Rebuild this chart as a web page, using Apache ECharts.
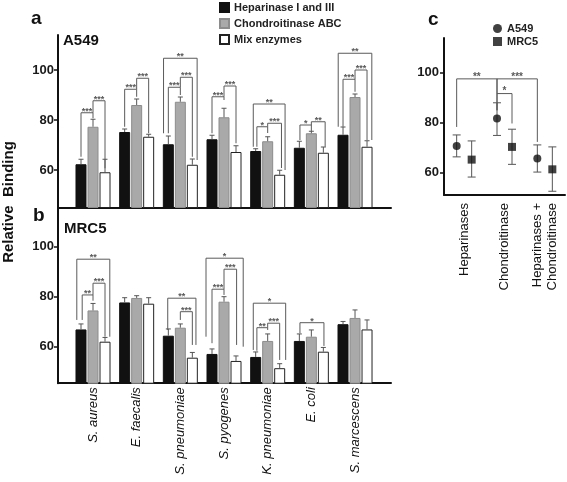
<!DOCTYPE html>
<html>
<head>
<meta charset="utf-8">
<script src="https://cdn.jsdelivr.net/npm/echarts@6/dist/echarts.min.js"></script>
<style>
html,body{margin:0;padding:0;background:#fff;}
#chart{width:567px;height:482px;}
</style>
</head>
<body>
<div id="chart"></div>
<script>
// ---------- data ----------
const categories = ['S. aureus', 'E. faecalis', 'S. pneumoniae', 'S. pyogenes', 'K. pneumoniae', 'E. coli', 'S. marcescens'];
const seriesNames = ['Heparinase I and III', 'Chondroitinase ABC', 'Mix enzymes'];

// Panel a: A549
const a549Hep  = [62.3, 75.2, 70.3, 72.3, 67.6, 68.9, 74.1];
const a549Chon = [77.3, 86.0, 87.3, 81.1, 71.5, 74.7, 89.2];
const a549Mix  = [59.1, 73.3, 62.1, 67.2, 58.1, 66.9, 69.3];
const a549HepErr  = [2.0, 1.2, 3.3, 1.6, 0.9, 2.6, 3.1];
const a549ChonErr = [3.0, 2.4, 1.9, 3.6, 1.8, 0.8, 1.2];
const a549MixErr  = [5.2, 1.0, 2.3, 2.5, 1.8, 2.3, 2.4];

// Panel b: MRC5
const mrc5Hep  = [66.9, 77.7, 64.4, 57.1, 55.9, 62.3, 69.0];
const mrc5Chon = [74.5, 79.5, 67.6, 78.0, 62.3, 64.0, 71.5];
const mrc5Mix  = [62.0, 77.2, 55.6, 54.3, 51.4, 58.0, 66.9];
const mrc5HepErr  = [2.2, 1.9, 2.7, 2.0, 2.0, 2.8, 1.1];
const mrc5ChonErr = [2.8, 0.9, 1.5, 2.0, 2.8, 2.7, 3.2];
const mrc5MixErr  = [1.7, 2.4, 2.1, 2.0, 1.8, 1.7, 3.8];

// Significance brackets: [group, leftBar, rightBar, top, leftBottom, rightBottom]
const bracketsA = [
  [0, -1, 0, 82.9, 65.3, 80.7], [0, 0, 1, 87.7, 82.9, 60.7],
  [1, -1, 0, 92.3, 77.3, 89.3], [1, 0, 1, 96.7, 92.3, 74.7],
  [2, -1.4, 1.4, 104.7, 74.7, 64.0], [2, -1, 0, 93.1, 74.7, 90.0], [2, 0, 1, 97.1, 93.1, 65.3],
  [3, -1, 0, 89.3, 74.7, 88.0], [3, 0, 1, 93.6, 89.3, 70.7],
  [4, -1.2, 1.45, 86.4, 69.3, 60.0], [4, -0.9, 0, 77.3, 69.3, 74.8], [4, 0, 1.15, 78.7, 77.3, 60.8],
  [5, -0.95, 0, 78.0, 72.0, 75.3], [5, 0, 1.15, 79.3, 78.0, 69.3],
  [6, -1.4, 1.4, 106.7, 77.3, 72.0], [6, -1, 0, 96.3, 77.3, 91.3], [6, 0, 1, 100.0, 96.3, 72.0]
];
const bracketLabelsA = ['***', '***', '***', '***', '**', '***', '***', '***', '***', '**', '*', '***', '*', '**', '**', '***', '***'];
const bracketsB = [
  [0, -1.35, 1.4, 95.0, 70.7, 64.0], [0, -0.9, 0, 80.7, 70.7, 78.4], [0, 0, 1, 85.4, 80.7, 64.0],
  [2, -1.05, 1.3, 79.4, 66.7, 60.7], [2, 0, 1, 74.0, 70.7, 60.7],
  [3, -1.5, 1.6, 95.4, 64.0, 60.0], [3, -1, 0, 83.0, 61.4, 80.7], [3, 0, 1.05, 91.0, 83.0, 60.7],
  [4, -1.2, 1.5, 77.4, 58.7, 54.7], [4, -0.9, 0, 67.6, 58.4, 66.7], [4, 0, 1, 69.4, 67.6, 54.7],
  [5, -0.95, 1.05, 69.6, 65.4, 60.3]
];
const bracketLabelsB = ['**', '**', '***', '**', '***', '*', '***', '***', '*', '**', '***', '*'];

// Panel c
const cCategories = ['Heparinases', 'Chondroitinase', 'Heparinases +\nChondroitinase'];
const cNames = ['A549', 'MRC5'];
const a549Mean = [70.7, 81.7, 65.6];
const a549Low  = [66.3, 74.9, 60.2];
const a549High = [75.1, 88.0, 71.1];
const mrc5Mean = [65.2, 70.3, 61.3];
const mrc5Low  = [58.2, 63.3, 52.5];
const mrc5High = [72.7, 77.4, 70.3];
// [leftCat, leftSide, rightCat, rightSide, top, leftBottom, rightBottom]
const bracketsC = [
  [0, -1, 1, -1, 97.6, 78.3, 85.0],
  [1, -1, 2, -1, 97.6, 85.0, 72.3],
  [1, -1, 1, 1, 91.7, 91.7, 79.7]
];
const bracketLabelsC = ['**', '***', '*'];

// ---------- styling ----------
const FONT = 'Liberation Sans, Arial, Helvetica, sans-serif';
const PITCH = 12;   // px between bar centres in a group
const CDODGE = 7.5; // px offset of points in panel c
const LINE = '#111';
const ANN = '#5a5a5a';
const barColors = ['#111111', '#a9a9a9', '#ffffff'];
const barBorders = ['#111111', '#8c8c8c', '#222222'];

const chart = echarts.init(document.getElementById('chart'), null, {renderer: 'canvas'});

function barSeries(name, idx, values, axis) {
  return {
    type: 'bar', name: name, xAxisIndex: axis, yAxisIndex: axis,
    data: values.map((v, i) => [i, v]),
    barWidth: 11, barGap: '9.1%',
    itemStyle: {color: barColors[idx], borderColor: barBorders[idx], borderWidth: 1},
    clip: true, z: 2, silent: true
  };
}

function errData(vals, errs) {
  const out = [];
  vals.forEach((ser, s) => ser.forEach((v, i) => out.push([i, s - 1, v, errs[s][i]])));
  return out;
}

function errSeries(data, axis) {
  return {
    type: 'custom', xAxisIndex: axis, yAxisIndex: axis, z: 3, silent: true,
    encode: {x: 0, y: 2},
    data: data,
    renderItem: function (params, api) {
      const g = api.value(0), pos = api.value(1), v = api.value(2), e = api.value(3);
      const b = api.coord([g, v]);
      const t = api.coord([g, v + e]);
      const x = b[0] + pos * PITCH;
      return {
        type: 'group', children: [
          {type: 'line', shape: {x1: x, y1: b[1], x2: x, y2: t[1]}, style: {stroke: '#555', lineWidth: 1}},
          {type: 'line', shape: {x1: x - 2.5, y1: t[1], x2: x + 2.5, y2: t[1]}, style: {stroke: '#555', lineWidth: 1}}
        ]
      };
    }
  };
}

function bracketSeries(data, labels, axis) {
  return {
    type: 'custom', xAxisIndex: axis, yAxisIndex: axis, z: 4, silent: true,
    encode: {x: 0, y: 3},
    data: data,
    renderItem: function (params, api) {
      const g = api.value(0);
      const c = api.coord([g, api.value(3)]);
      const xL = c[0] + api.value(1) * PITCH;
      const xR = c[0] + api.value(2) * PITCH;
      const yT = c[1];
      const yL = api.coord([g, api.value(4)])[1];
      const yR = api.coord([g, api.value(5)])[1];
      return {
        type: 'group', children: [
          {type: 'polyline', shape: {points: [[xL, yL], [xL, yT], [xR, yT], [xR, yR]]},
           style: {stroke: ANN, lineWidth: 1, fill: null}},
          {type: 'text', style: {text: labels[params.dataIndex], x: (xL + xR) / 2, y: yT + 3,
           align: 'center', verticalAlign: 'bottom', fill: ANN, font: 'bold 9px ' + FONT}}
        ]
      };
    }
  };
}

const yLabel = {customValues: [60, 80, 100], fontSize: 13, fontWeight: 'bold', color: '#1a1a1a', fontFamily: FONT, margin: 4};
const yTick = {show: true, customValues: [60, 80, 100], length: 4, lineStyle: {color: LINE, width: 1.5}};
const axLine = {show: true, onZero: false, lineStyle: {color: LINE, width: 2}};

const option = {
  animation: false,
  backgroundColor: '#fff',
  textStyle: {fontFamily: FONT},
  title: [
    {text: 'a', left: 31, top: 9, padding: 0, textStyle: {fontSize: 19, fontWeight: 'bold', color: '#111', fontFamily: FONT}},
    {text: 'A549', left: 63, top: 33, padding: 0, textStyle: {fontSize: 15, fontWeight: 'bold', color: '#111', fontFamily: FONT}},
    {text: 'b', left: 33, top: 206, padding: 0, textStyle: {fontSize: 19, fontWeight: 'bold', color: '#111', fontFamily: FONT}},
    {text: 'MRC5', left: 64, top: 221, padding: 0, textStyle: {fontSize: 15, fontWeight: 'bold', color: '#111', fontFamily: FONT}},
    {text: 'c', left: 428, top: 10, padding: 0, textStyle: {fontSize: 19, fontWeight: 'bold', color: '#111', fontFamily: FONT}}
  ],
  legend: [
    {data: seriesNames, orient: 'vertical', left: 219, top: 2, padding: 0, itemWidth: 9, itemHeight: 9, itemGap: 5,
     icon: 'rect', itemTextGap: 6,
     textStyle: {fontSize: 11, fontWeight: 'bold', color: '#222', fontFamily: FONT}, selectedMode: false},
    {data: cNames, orient: 'vertical', left: 493, top: 23, padding: 0, itemWidth: 9, itemHeight: 9, itemGap: 2, itemTextGap: 3,
     textStyle: {fontSize: 11, fontWeight: 'bold', color: '#222', fontFamily: FONT}, selectedMode: false}
  ],
  graphic: [
    {type: 'text', x: 9, y: 202, rotation: Math.PI / 2,
     style: {text: 'Relative  Binding', font: 'bold 15px ' + FONT, fill: '#111', align: 'center', verticalAlign: 'middle'}}
  ],
  grid: [
    {left: 58, top: 35, width: 333, height: 172.5},
    {left: 58, top: 206.7, width: 333, height: 176.5},
    {left: 444, top: 38, width: 121, height: 157}
  ],
  xAxis: [
    {gridIndex: 0, type: 'value', min: -0.8015, max: 6.824, axisLine: axLine, axisTick: {show: false},
     axisLabel: {show: false}, splitLine: {show: false}},
    {gridIndex: 1, type: 'value', min: -0.8015, max: 6.824, axisLine: axLine, axisTick: {show: false},
     axisLabel: {customValues: [0, 1, 2, 3, 4, 5, 6], formatter: v => categories[Math.round(v)], rotate: 90,
       fontStyle: 'italic', fontSize: 13, color: '#111', fontFamily: FONT, margin: 4},
     splitLine: {show: false}},
    {gridIndex: 2, type: 'category', data: cCategories, boundaryGap: true, axisLine: axLine, axisTick: {show: false},
     axisLabel: {interval: 0, rotate: 90, fontSize: 13, color: '#111', fontFamily: FONT, margin: 8, lineHeight: 15},
     splitLine: {show: false}}
  ],
  yAxis: [
    {gridIndex: 0, type: 'value', min: 45, max: 114, axisLine: axLine, axisTick: yTick, axisLabel: yLabel, splitLine: {show: false}},
    {gridIndex: 1, type: 'value', min: 45.4, max: 116, axisLine: axLine, axisTick: yTick, axisLabel: yLabel, splitLine: {show: false}},
    {gridIndex: 2, type: 'value', min: 51, max: 114, axisLine: axLine, axisTick: yTick,
     axisLabel: Object.assign({}, yLabel, {margin: 5}), splitLine: {show: false}}
  ],
  series: [
    barSeries(seriesNames[0], 0, a549Hep, 0),
    barSeries(seriesNames[1], 1, a549Chon, 0),
    barSeries(seriesNames[2], 2, a549Mix, 0),
    barSeries(seriesNames[0], 0, mrc5Hep, 1),
    barSeries(seriesNames[1], 1, mrc5Chon, 1),
    barSeries(seriesNames[2], 2, mrc5Mix, 1),
    errSeries(errData([a549Hep, a549Chon, a549Mix], [a549HepErr, a549ChonErr, a549MixErr]), 0),
    errSeries(errData([mrc5Hep, mrc5Chon, mrc5Mix], [mrc5HepErr, mrc5ChonErr, mrc5MixErr]), 1),
    bracketSeries(bracketsA, bracketLabelsA, 0),
    bracketSeries(bracketsB, bracketLabelsB, 1),
    // panel c error bars
    {
      type: 'custom', xAxisIndex: 2, yAxisIndex: 2, z: 3, silent: true, encode: {x: 0, y: [2, 3]},
      data: a549Mean.map((m, i) => [i, -1, a549Low[i], a549High[i]]).concat(mrc5Mean.map((m, i) => [i, 1, mrc5Low[i], mrc5High[i]])),
      renderItem: function (params, api) {
        const i = api.value(0), side = api.value(1);
        const lo = api.coord([i, api.value(2)]);
        const hi = api.coord([i, api.value(3)]);
        const x = lo[0] + side * CDODGE;
        const st = {stroke: '#555', lineWidth: 1};
        return {type: 'group', children: [
          {type: 'line', shape: {x1: x, y1: lo[1], x2: x, y2: hi[1]}, style: st},
          {type: 'line', shape: {x1: x - 4, y1: lo[1], x2: x + 4, y2: lo[1]}, style: st},
          {type: 'line', shape: {x1: x - 4, y1: hi[1], x2: x + 4, y2: hi[1]}, style: st}
        ]};
      }
    },
    {type: 'scatter', name: cNames[0], xAxisIndex: 2, yAxisIndex: 2, data: a549Mean, symbol: 'circle', symbolSize: 8,
     symbolOffset: [-CDODGE, 0], itemStyle: {color: '#111'}, z: 5, silent: true},
    {type: 'scatter', name: cNames[1], xAxisIndex: 2, yAxisIndex: 2, data: mrc5Mean, symbol: 'rect', symbolSize: 8,
     symbolOffset: [CDODGE, 0], itemStyle: {color: '#111'}, z: 5, silent: true},
    {
      type: 'custom', xAxisIndex: 2, yAxisIndex: 2, z: 4, silent: true, encode: {x: 0, y: 4},
      data: bracketsC,
      renderItem: function (params, api) {
        const top = api.value(4);
        const l = api.coord([api.value(0), top]);
        const r = api.coord([api.value(2), top]);
        const xL = l[0] + api.value(1) * CDODGE;
        const xR = r[0] + api.value(3) * CDODGE;
        const yL = api.coord([api.value(0), api.value(5)])[1];
        const yR = api.coord([api.value(2), api.value(6)])[1];
        return {type: 'group', children: [
          {type: 'polyline', shape: {points: [[xL, yL], [xL, l[1]], [xR, l[1]], [xR, yR]]}, style: {stroke: ANN, lineWidth: 1, fill: null}},
          {type: 'text', style: {text: bracketLabelsC[params.dataIndex], x: (xL + xR) / 2, y: l[1] + 3,
           align: 'center', verticalAlign: 'bottom', fill: ANN, font: 'bold 10px ' + FONT}}
        ]};
      }
    }
  ]
};
chart.setOption(option);
</script>
</body>
</html>
